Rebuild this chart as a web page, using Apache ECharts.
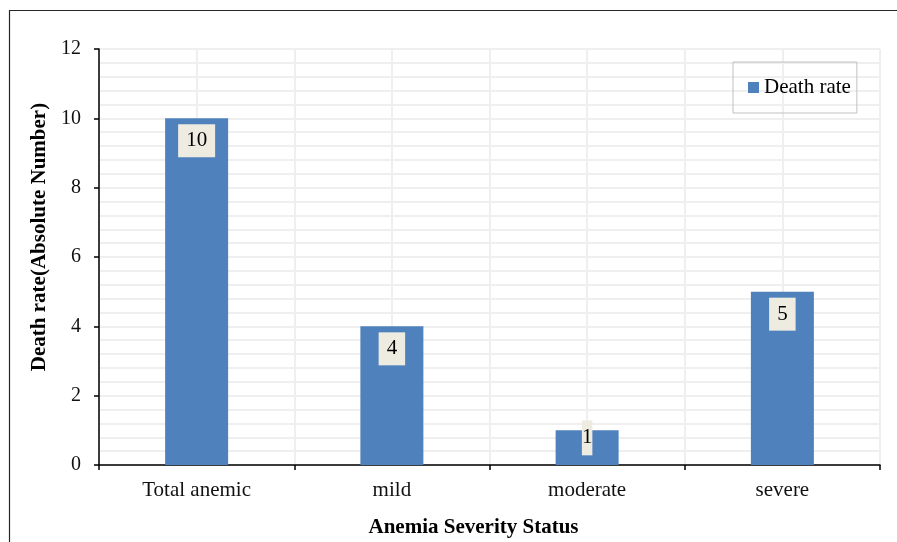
<!DOCTYPE html>
<html>
<head>
<meta charset="utf-8">
<script src="https://cdn.jsdelivr.net/npm/echarts@6/dist/echarts.min.js"></script>
<style>html,body{margin:0;padding:0;background:#fff;}#c{width:897px;height:542px;}</style>
</head>
<body>
<div id="c"></div>
<script>
const categories = ['Total anemic', 'mild', 'moderate', 'severe'];
const deathRate = [10, 4, 1, 5];
const seriesName = 'Death rate';
const xTitle = 'Anemia Severity Status';
const yTitle = 'Death rate(Absolute Number)';

const FONT = '"Liberation Serif", "Times New Roman", serif';
const chart = echarts.init(document.getElementById('c'));

const halfCats = [];
categories.forEach(c => { halfCats.push(c + '_a'); halfCats.push(c + '_b'); });

const barData = deathRate.map((v, i) => {
  if (v < 2) {
    return { value: v, label: { padding: [7, 0, 7, 0], offset: [0, -16] } };
  }
  return { value: v };
});

chart.setOption({
  animation: false,
  backgroundColor: '#fff',
  graphic: [{
    type: 'rect', silent: true, z: -1,
    shape: { x: 9.5, y: 10.5, width: 1000, height: 1000 },
    style: { fill: 'none', stroke: '#262626', lineWidth: 1.2 }
  }],
  grid: { left: 99, right: 17, top: 49, bottom: 77, outerBoundsMode: 'none', containLabel: false },
  legend: {
    left: 733, top: 62,
    padding: [15, 6, 15, 15],
    borderColor: '#c0c0c0', borderWidth: 1,
    icon: 'rect', itemWidth: 11, itemHeight: 11, itemGap: 4,
    textStyle: { fontFamily: FONT, fontSize: 21, color: '#000' },
    data: [seriesName]
  },
  xAxis: [{
    type: 'category', data: categories, boundaryGap: true,
    name: xTitle, nameLocation: 'middle', nameGap: 52,
    nameTextStyle: { fontFamily: FONT, fontSize: 21, fontWeight: 'bold', color: '#000', padding: [0, 32, 0, 0] },
    axisLine: { lineStyle: { color: '#000', width: 1.5 } },
    axisTick: { show: true, length: 5, alignWithLabel: false, lineStyle: { color: '#000', width: 1.5 } },
    axisLabel: { fontFamily: FONT, fontSize: 21, color: '#111', margin: 15 },
    splitLine: { show: false }
  }, {
    type: 'category', data: halfCats, boundaryGap: true, position: 'bottom',
    axisLine: { show: false }, axisTick: { show: false }, axisLabel: { show: false },
    splitLine: { show: true, interval: 0, lineStyle: { color: '#efefef', width: 2 } }
  }],
  yAxis: {
    type: 'value', min: 0, max: 12, interval: 2,
    name: yTitle, nameLocation: 'middle', nameGap: 46,
    nameTextStyle: { fontFamily: FONT, fontSize: 21, fontWeight: 'bold', color: '#000', padding: [0, 0, 0, 40] },
    axisLine: { show: true, lineStyle: { color: '#000', width: 1.5 } },
    axisTick: { show: true, length: 5, lineStyle: { color: '#000', width: 1.5 } },
    axisLabel: { fontFamily: FONT, fontSize: 20, color: '#111', margin: 18 },
    splitLine: { show: true, lineStyle: { color: '#efefef', width: 2 } },
    minorTick: { show: false, splitNumber: 5 },
    minorSplitLine: { show: true, lineStyle: { color: '#efefef', width: 2 } }
  },
  series: [{
    name: seriesName, type: 'bar', xAxisIndex: 0,
    data: barData,
    barWidth: 63,
    itemStyle: { color: '#4f81bd' },
    label: {
      show: true, position: 'insideTop', distance: 6,
      fontFamily: FONT, fontSize: 21, color: '#000',
      backgroundColor: '#eeece1', padding: [6, 8, 6, 8], lineHeight: 21
    }
  }]
});
</script>
</body>
</html>
